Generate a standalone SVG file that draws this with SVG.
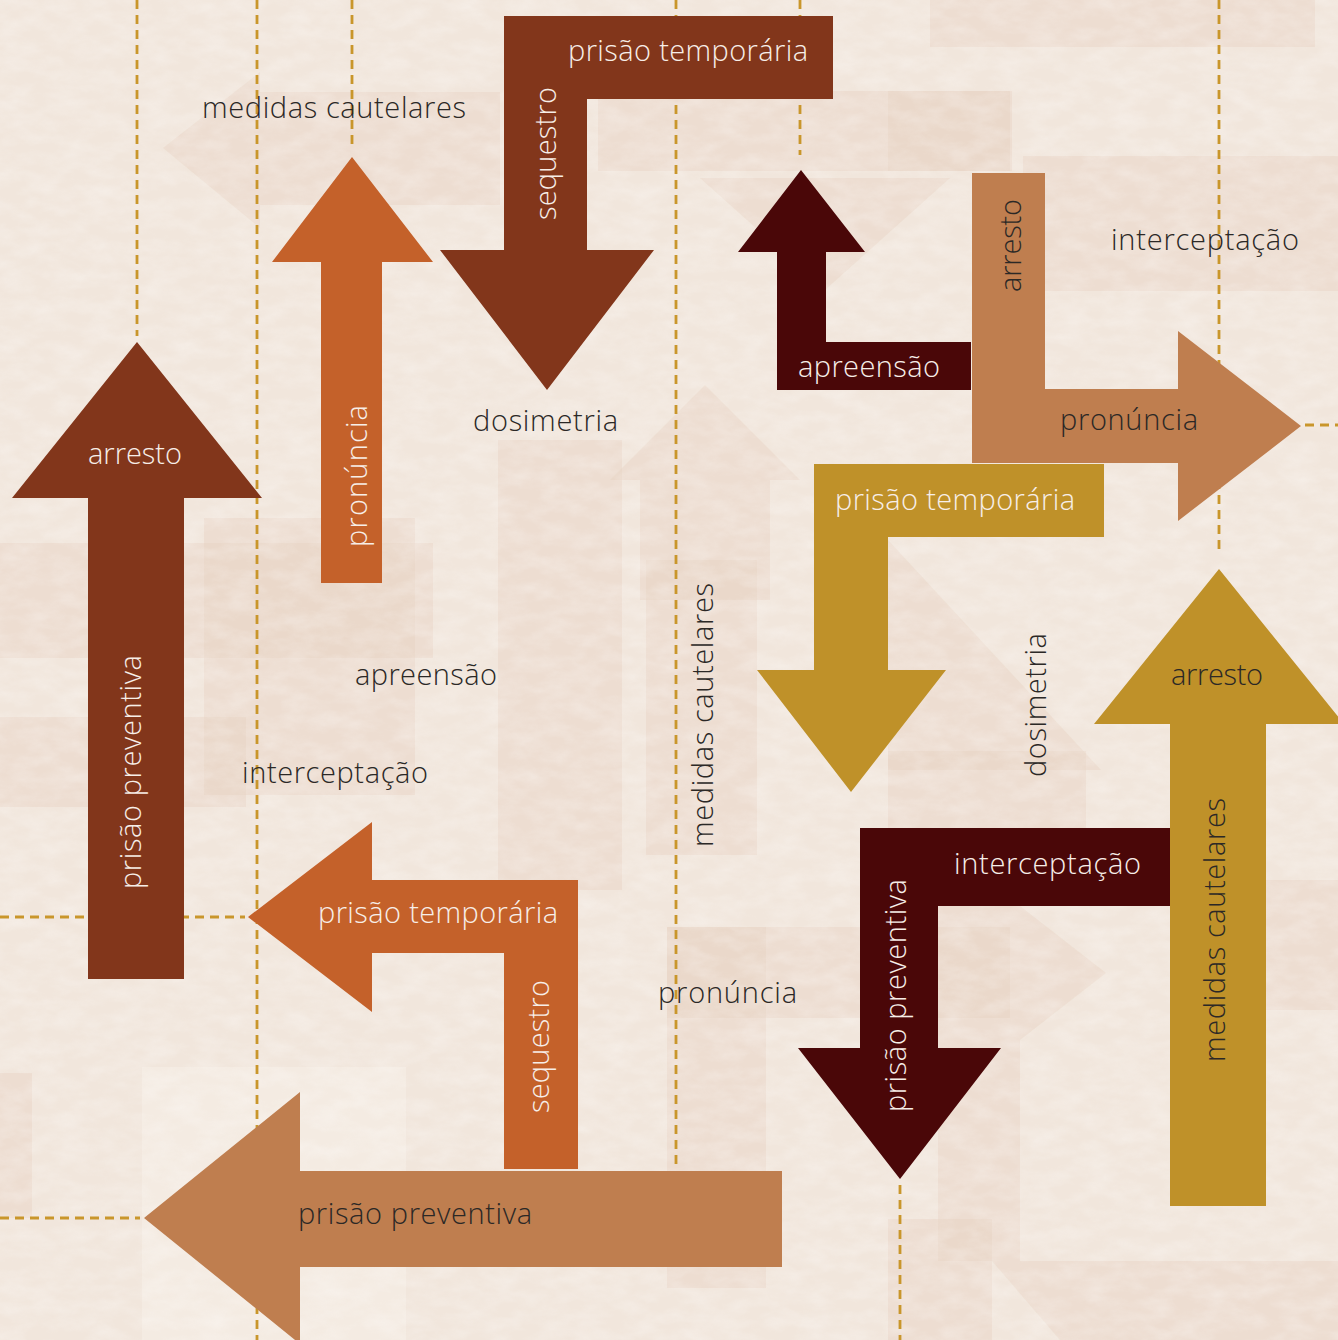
<svg xmlns="http://www.w3.org/2000/svg" width="1338" height="1340" viewBox="0 0 1338 1340">
<defs>
<style>
.lbl{font-family:"Open Sans","Liberation Sans",sans-serif;font-weight:300;font-size:29px}
.dark{fill:#2b2826}
.light{fill:#f7eee8}
.guide{fill:none;stroke:#c9962b;stroke-width:2.8;stroke-dasharray:9 6}
.ghost{fill:#e6d2c2;opacity:0.42}
.pale{fill:#f8f3ee;opacity:0.35}
.c1{fill:#82361b}.c2{fill:#c4612a}.c3{fill:#4a0708}.c4{fill:#bf7e4f}.c5{fill:#bf9129}
</style>
<filter id="paper" x="0" y="0" width="100%" height="100%">
<feTurbulence type="fractalNoise" baseFrequency="0.035 0.07" numOctaves="4" seed="7"/>
<feColorMatrix type="matrix" values="0 0 0 0 1  0 0 0 0 1  0 0 0 0 1  0.9 0 0 0 -0.3"/>
</filter>
</defs>

<g id="background">
<rect width="1338" height="1340" fill="#f1e6dc"/>
<rect class="ghost" x="930" y="0" width="385" height="47"/>
<rect class="ghost" x="888" y="91" width="124" height="80"/>
<rect class="ghost" x="1023" y="156" width="315" height="135"/>
<polygon class="ghost" points="163,148 260,72 260,92 500,92 500,205 260,205 260,228"/>
<rect class="ghost" x="598" y="91" width="412" height="80"/>
<polygon class="ghost" points="700,178 950,178 825,290"/>
<rect class="ghost" x="0" y="543" width="433" height="115"/>
<rect class="ghost" x="0" y="717" width="246" height="90"/>
<rect class="ghost" x="204" y="518" width="211" height="277"/>
<rect class="ghost" x="498" y="440" width="124" height="450"/>
<rect class="ghost" x="646" y="560" width="111" height="295"/>
<polygon class="ghost" points="705,385 800,480 770,480 770,600 640,600 640,480 610,480"/>
<polygon class="ghost" points="888,540 1101,770 888,770"/>
<rect class="ghost" x="888" y="751" width="198" height="77"/>
<rect class="ghost" x="667" y="927" width="343" height="91"/>
<rect class="ghost" x="667" y="927" width="99" height="361"/>
<polygon class="ghost" points="938,906 1020,906 1106,973 1020,1040 1020,1261 938,1261"/>
<rect class="ghost" x="888" y="1219" width="104" height="121"/>
<polygon class="ghost" points="992,1261 1338,1261 1338,1340 1060,1340"/>
<rect class="ghost" x="0" y="1073" width="32" height="145"/>
<rect class="pale" x="142" y="1067" width="264" height="273"/>
<rect class="ghost" x="1266" y="880" width="72" height="130"/>
<rect width="1338" height="1340" filter="url(#paper)" opacity="0.55"/>
</g>

<g id="connectors">
<line class="guide" x1="137" y1="0" x2="137" y2="336"/>
<line class="guide" x1="257" y1="0" x2="257" y2="1340"/>
<line class="guide" x1="352" y1="0" x2="352" y2="148"/>
<line class="guide" x1="676" y1="0" x2="676" y2="1165"/>
<line class="guide" x1="800" y1="0" x2="800" y2="155"/>
<line class="guide" x1="1219" y1="0" x2="1219" y2="555"/>
<line class="guide" x1="900" y1="1185" x2="900" y2="1340"/>
<line class="guide" x1="0" y1="917" x2="245" y2="917"/>
<line class="guide" x1="0" y1="1218" x2="140" y2="1218"/>
<line class="guide" x1="1305" y1="425" x2="1338" y2="425"/>
</g>

<g id="arrow-arresto-preventiva">
<polygon class="c1" points="137,342 262,498 184,498 184,979 88,979 88,498 12,498"/>
<text class="lbl light" x="88" y="464" textLength="94" lengthAdjust="spacing">arresto</text>
<text class="lbl light" transform="translate(141,889) rotate(-90)" textLength="234" lengthAdjust="spacing">prisão preventiva</text>
</g>

<g id="arrow-pronuncia">
<polygon class="c2" points="352,157 433,262 382,262 382,583 321,583 321,262 272,262"/>
<text class="lbl light" transform="translate(367,547) rotate(-90)" textLength="142" lengthAdjust="spacing">pronúncia</text>
</g>

<g id="arrow-temporaria-sequestro">
<polygon class="c1" points="504,16 833,16 833,99 587,99 587,250 654,250 547,390 440,250 504,250"/>
<text class="lbl light" x="568" y="61" textLength="240" lengthAdjust="spacing">prisão temporária</text>
<text class="lbl light" transform="translate(556,220) rotate(-90)" textLength="133" lengthAdjust="spacing">sequestro</text>
</g>

<g id="arrow-apreensao">
<polygon class="c3" points="801,170 865,252 826,252 826,342 971,342 971,390 777,390 777,252 738,252"/>
<text class="lbl light" x="798" y="377" textLength="142" lengthAdjust="spacing">apreensão</text>
</g>

<g id="arrow-arresto-pronuncia">
<polygon class="c4" points="972,173 1045,173 1045,389 1178,389 1178,331 1301,426 1178,521 1178,463 972,463"/>
<text class="lbl dark" transform="translate(1021,292) rotate(-90)" textLength="93" lengthAdjust="spacing">arresto</text>
<text class="lbl dark" x="1060" y="430" textLength="138" lengthAdjust="spacing">pronúncia</text>
</g>

<g id="arrow-temporaria-gold">
<polygon class="c5" points="814,464 1104,464 1104,537 888,537 888,670 946,670 851,792 757,670 814,670"/>
<text class="lbl light" x="835" y="510" textLength="240" lengthAdjust="spacing">prisão temporária</text>
</g>

<g id="arrow-arresto-cautelares">
<polygon class="c5" points="1219,569 1344,724 1266,724 1266,1206 1170,1206 1170,724 1094,724"/>
<text class="lbl dark" x="1171" y="685" textLength="92" lengthAdjust="spacing">arresto</text>
<text class="lbl dark" transform="translate(1225,1062) rotate(-90)" textLength="264" lengthAdjust="spacing">medidas cautelares</text>
</g>

<g id="arrow-interceptacao-preventiva">
<polygon class="c3" points="860,828 1170,828 1170,906 938,906 938,1048 1001,1048 900,1179 798,1048 860,1048"/>
<text class="lbl light" x="954" y="874" textLength="187" lengthAdjust="spacing">interceptação</text>
<text class="lbl light" transform="translate(906,1112) rotate(-90)" textLength="233" lengthAdjust="spacing">prisão preventiva</text>
</g>

<g id="arrow-temporaria-sequestro-2">
<polygon class="c2" points="248,917 372,822 372,880 578,880 578,1169 504,1169 504,953 372,953 372,1012"/>
<text class="lbl light" x="318" y="923" textLength="240" lengthAdjust="spacing">prisão temporária</text>
<text class="lbl light" transform="translate(549,1113) rotate(-90)" textLength="133" lengthAdjust="spacing">sequestro</text>
</g>

<g id="arrow-preventiva">
<polygon class="c4" points="144,1218 300,1092 300,1171 782,1171 782,1267 300,1267 300,1344"/>
<text class="lbl dark" x="298" y="1224" textLength="234" lengthAdjust="spacing">prisão preventiva</text>
</g>

<g id="label-medidas-1"><text class="lbl dark" x="202" y="118" textLength="264" lengthAdjust="spacing">medidas cautelares</text></g>
<g id="label-dosimetria-1"><text class="lbl dark" x="473" y="431" textLength="145" lengthAdjust="spacing">dosimetria</text></g>
<g id="label-apreensao"><text class="lbl dark" x="355" y="685" textLength="142" lengthAdjust="spacing">apreensão</text></g>
<g id="label-interceptacao-1"><text class="lbl dark" x="242" y="783" textLength="186" lengthAdjust="spacing">interceptação</text></g>
<g id="label-pronuncia"><text class="lbl dark" x="658" y="1003" textLength="139" lengthAdjust="spacing">pronúncia</text></g>
<g id="label-interceptacao-2"><text class="lbl dark" x="1111" y="250" textLength="188" lengthAdjust="spacing">interceptação</text></g>
<g id="label-medidas-2"><text class="lbl dark" transform="translate(713,847) rotate(-90)" textLength="264" lengthAdjust="spacing">medidas cautelares</text></g>
<g id="label-dosimetria-2"><text class="lbl dark" transform="translate(1046,777) rotate(-90)" textLength="144" lengthAdjust="spacing">dosimetria</text></g>
</svg>
